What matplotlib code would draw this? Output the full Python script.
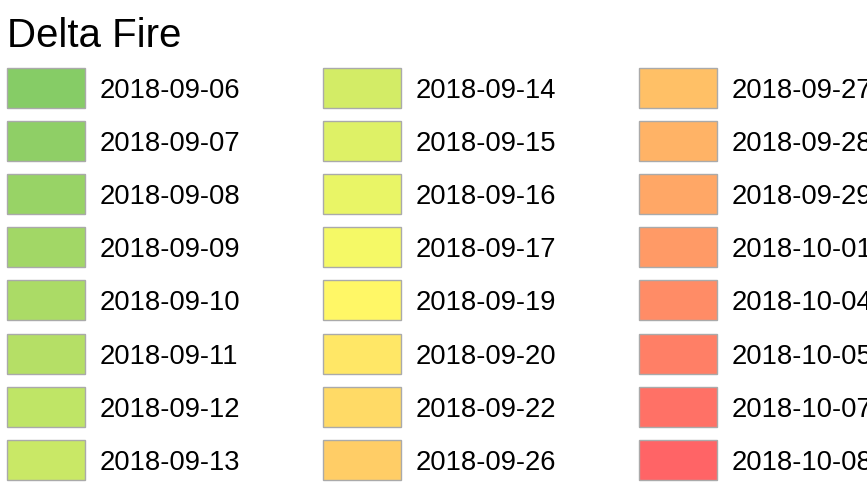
#!/usr/bin/env python3
import matplotlib

matplotlib.use("Agg")
import matplotlib.pyplot as plt
from matplotlib.patches import Rectangle

TITLE = "Delta Fire"

dates = [
    "2018-09-06", "2018-09-07", "2018-09-08", "2018-09-09",
    "2018-09-10", "2018-09-11", "2018-09-12", "2018-09-13",
    "2018-09-14", "2018-09-15", "2018-09-16", "2018-09-17",
    "2018-09-19", "2018-09-20", "2018-09-22", "2018-09-26",
    "2018-09-27", "2018-09-28", "2018-09-29", "2018-10-01",
    "2018-10-04", "2018-10-05", "2018-10-07", "2018-10-08",
]

colors = [
    "#86cc66", "#8fcf66", "#98d366", "#a2d766",
    "#abdb66", "#b5df66", "#bfe566", "#c9e866",
    "#d3ec66", "#def166", "#e9f566", "#f5f966",
    "#fff766", "#ffe766", "#ffda66", "#ffcd66",
    "#ffc066", "#ffb366", "#ffa766", "#ff9a66",
    "#ff8c66", "#ff7f66", "#ff7166", "#ff6466",
]

W, H = 867, 486
ROWS = 8
col_x = [7, 323, 639]      # swatch left edges (px)
text_dx = 93               # swatch left -> label left
sw_w, sw_h = 78, 40
row0 = 88                  # centre of first row
row_step = 53.1

fig = plt.figure(figsize=(W / 100, H / 100), dpi=100)
ax = fig.add_axes([0, 0, 1, 1])
ax.set_xlim(0, W)
ax.set_ylim(H, 0)
ax.axis("off")

ax.text(7, 36, TITLE, fontsize=29, family="Liberation Sans",
        va="center", ha="left", color="black")

for i, (label, color) in enumerate(zip(dates, colors)):
    col, row = divmod(i, ROWS)
    x = col_x[col]
    yc = row0 + row * row_step
    ax.add_patch(Rectangle((x, yc - sw_h / 2), sw_w, sw_h,
                           facecolor=color, edgecolor="#aaaaaa", linewidth=1))
    ax.text(x + text_dx, yc, label, fontsize=19.7, family="Liberation Sans",
            va="center_baseline", ha="left", color="black")

fig.savefig("out.png", dpi=100)
